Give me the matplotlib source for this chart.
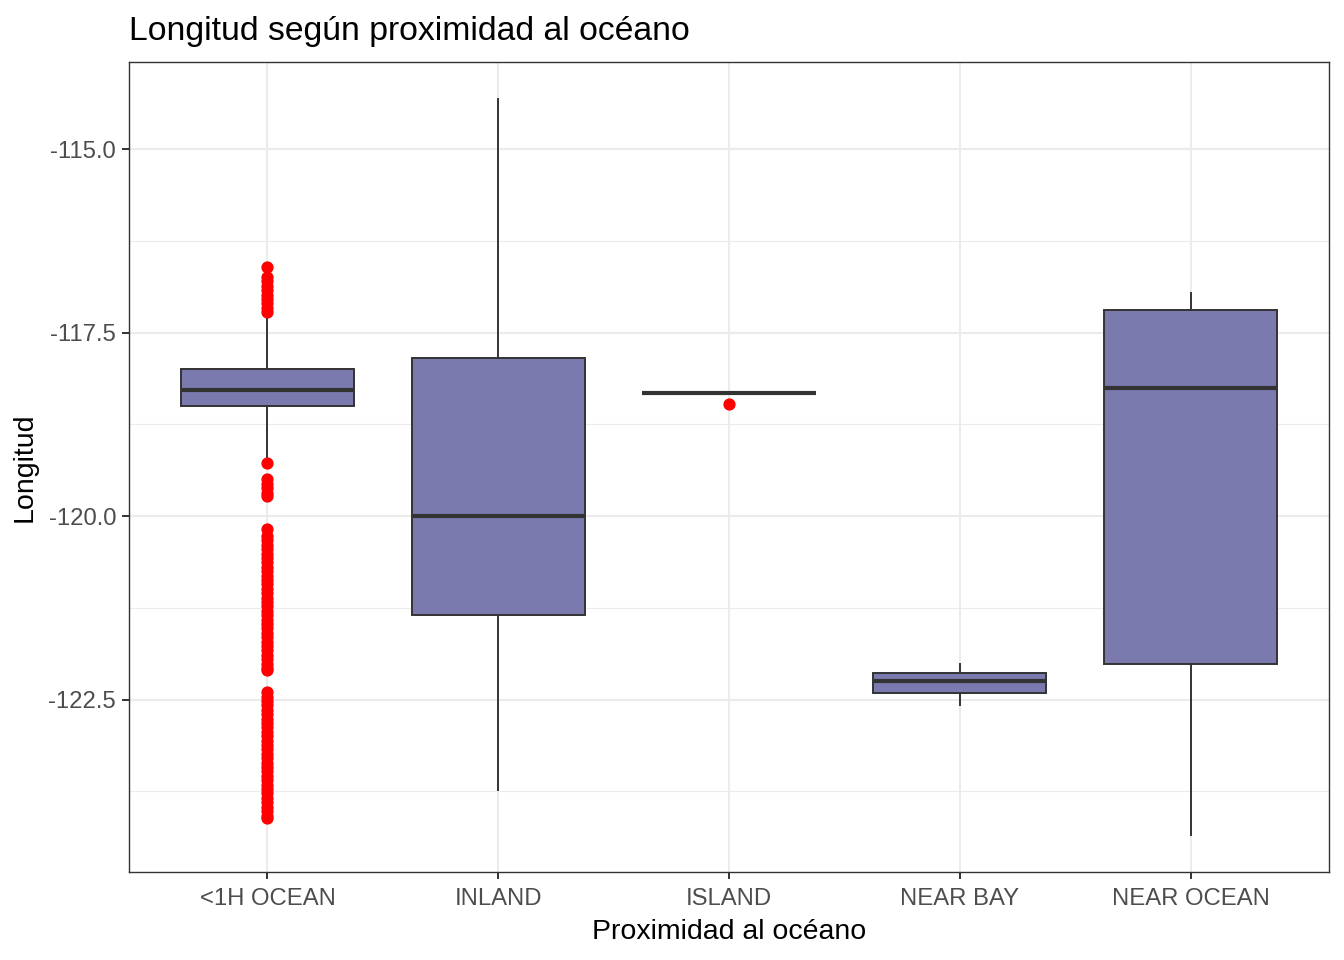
import matplotlib
matplotlib.use("Agg")
import matplotlib.pyplot as plt
from matplotlib.ticker import MultipleLocator

plt.rcParams['font.family'] = ['Liberation Sans', 'DejaVu Sans']

categories = ["<1H OCEAN", "INLAND", "ISLAND", "NEAR BAY", "NEAR OCEAN"]
q1 = [-118.50, -121.35, -118.32, -122.41, -122.01]
med = [-118.28, -120.00, -118.32, -122.25, -118.26]
q3 = [-118.00, -117.84, -118.32, -122.14, -117.19]
whislo = [-119.20, -123.73, -118.32, -122.58, -124.35]
whishi = [-117.25, -114.31, -118.32, -122.01, -116.96]
outliers = [
    [-116.61, -116.74, -116.80, -116.86, -116.92, -116.98, -117.04, -117.10, -117.16, -117.22,
     -119.27,
     -119.50, -119.56, -119.62, -119.68, -119.73,
     -120.17, -120.27, -120.33, -120.39, -120.45, -120.51, -120.57, -120.63, -120.69, -120.75,
     -120.81, -120.87, -120.93, -120.99, -121.05, -121.11, -121.17, -121.23, -121.29, -121.35,
     -121.41, -121.47, -121.53, -121.59, -121.65, -121.71, -121.77, -121.83, -121.89, -121.95,
     -122.01, -122.07, -122.10,
     -122.40, -122.46, -122.52, -122.58, -122.64, -122.70, -122.76, -122.82, -122.88, -122.94,
     -123.00, -123.06, -123.12, -123.18, -123.24, -123.30, -123.36, -123.42, -123.48, -123.54,
     -123.60, -123.66, -123.72, -123.78, -123.84, -123.90, -123.96, -124.02, -124.08, -124.12],
    [],
    [-118.47],
    [],
    [],
]

stats = []
for i, c in enumerate(categories):
    stats.append(dict(label=c, q1=q1[i], med=med[i], q3=q3[i],
                      whislo=whislo[i], whishi=whishi[i], fliers=outliers[i]))

fig = plt.figure(figsize=(13.44, 9.6), dpi=100)
ax = fig.add_axes([129/1344, 1-872/960, 1200/1344, 810/960])

edge = "#333333"
positions = list(range(1, len(categories)+1))
ax.bxp(stats, positions=positions, widths=0.75, patch_artist=True,
       showcaps=False,
       boxprops=dict(facecolor="#7A7AAF", edgecolor=edge, linewidth=1.4),
       whiskerprops=dict(color=edge, linewidth=1.4),
       medianprops=dict(color=edge, linewidth=3.0, solid_capstyle='butt'),
       flierprops=dict(marker='o', markerfacecolor='red', markeredgecolor='red',
                       markersize=7.8, linestyle='none'),
       zorder=3)

ax.set_xlim(0.4, 5.6)
ax.set_ylim(-124.85, -113.81)
ax.set_xticks(positions)
ax.set_xticklabels(categories)
ax.yaxis.set_major_formatter(matplotlib.ticker.FormatStrFormatter('%.1f'))
ax.set_yticks([-115.0, -117.5, -120.0, -122.5])
ax.set_yticks([-116.25, -118.75, -121.25, -123.75], minor=True)

ax.grid(True, which='major', color='#EBEBEB', linewidth=1.5, zorder=0)
ax.grid(True, which='minor', axis='y', color='#EBEBEB', linewidth=0.8, zorder=0)
ax.set_axisbelow(True)

for s in ax.spines.values():
    s.set_color(edge)
    s.set_linewidth(1.0)

ax.tick_params(axis='both', which='major', colors='#333333', labelcolor='#4D4D4D',
               labelsize=17.2, length=5.3, width=1.4)
ax.tick_params(axis='x', which='major', pad=6)
ax.tick_params(axis='y', which='major', pad=4)
ax.tick_params(axis='y', which='minor', length=0)

ax.set_xlabel("Proximidad al océano", fontsize=20.5, color='black', labelpad=7)
ax.set_ylabel("Longitud", fontsize=20.5, color='black', labelpad=8)
ax.set_title("Longitud según proximidad al océano", fontsize=24.3, loc='left',
             color='black', pad=16)

fig.savefig("out.png", dpi=100)
